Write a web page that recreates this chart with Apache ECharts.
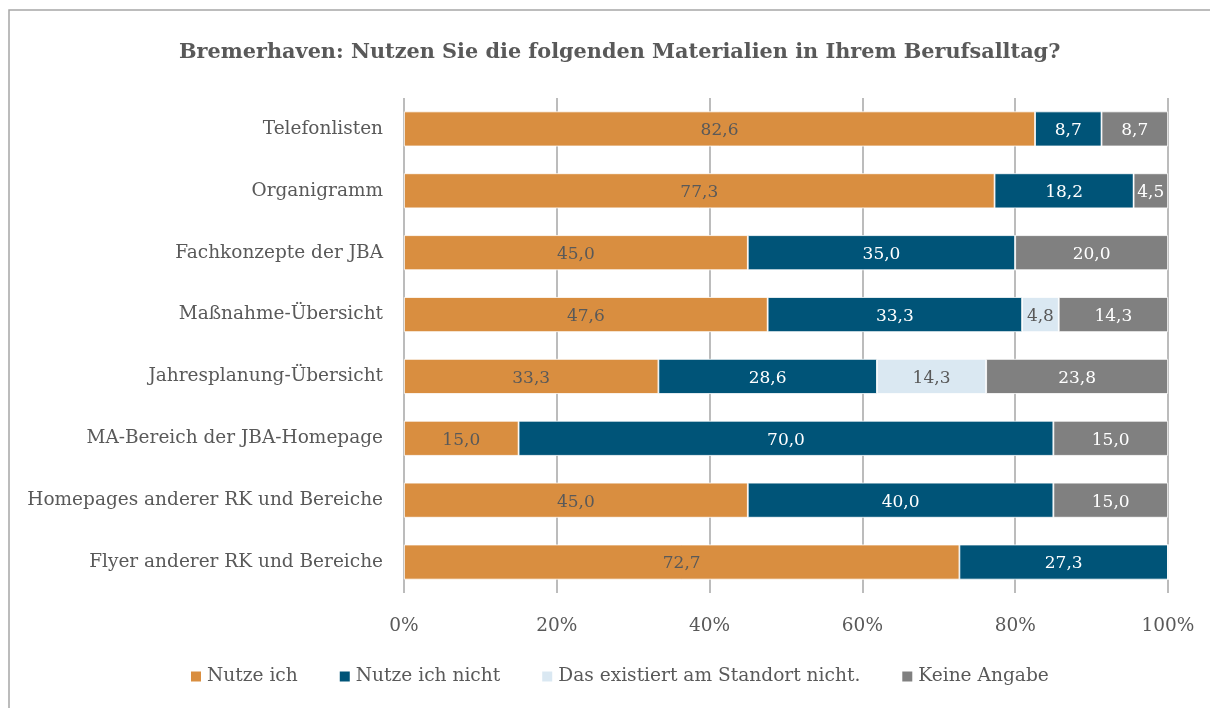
<!DOCTYPE html>
<html>
<head>
<meta charset="utf-8">
<script src="https://cdn.jsdelivr.net/npm/echarts@6/dist/echarts.min.js"></script>
<style>
html, body { margin: 0; padding: 0; background: #fff; }
#main { width: 1210px; height: 708px; }
</style>
</head>
<body>
<div id="main"></div>
<script>
var categories = ['Telefonlisten', 'Organigramm', 'Fachkonzepte der JBA', 'Maßnahme-Übersicht',
    'Jahresplanung-Übersicht', 'MA-Bereich der JBA-Homepage', 'Homepages anderer RK und Bereiche',
    'Flyer anderer RK und Bereiche'];
var nutzeIch = [82.6, 77.3, 45.0, 47.6, 33.3, 15.0, 45.0, 72.7];
var nutzeIchNicht = [8.7, 18.2, 35.0, 33.3, 28.6, 70.0, 40.0, 27.3];
var existiertNicht = [0, 0, 0, 4.8, 14.3, 0, 0, 0];
var keineAngabe = [8.7, 4.5, 20.0, 14.3, 23.8, 15.0, 15.0, 0];
var xTicks = [0, 20, 40, 60, 80, 100];

var fontFam = '"Palatino Linotype", "Book Antiqua", Palatino, "DejaVu Serif", serif';
var textGray = '#595959';

function fmt(p) {
    if (!p.value) return '';
    return p.value.toFixed(1).replace('.', ',');
}

function makeSeries(name, data, color, labelColor) {
    return {
        name: name,
        type: 'bar',
        stack: 'total',
        barWidth: 35,
        data: data,
        itemStyle: { color: color, borderColor: '#fff', borderWidth: 0.8 },
        label: {
            show: true,
            position: 'inside',
            formatter: fmt,
            color: labelColor,
            fontFamily: fontFam,
            fontSize: 17,
            offset: [0, 2]
        }
    };
}

var chart = echarts.init(document.getElementById('main'));
chart.setOption({
    animation: false,
    textStyle: { fontFamily: fontFam },
    graphic: [{
        type: 'rect',
        shape: { x: 9, y: 10, width: 1220, height: 720 },
        style: { fill: 'none', stroke: '#A6A6A6', lineWidth: 1.5 },
        silent: true
    }],
    title: {
        text: 'Bremerhaven: Nutzen Sie die folgenden Materialien in Ihrem Berufsalltag?',
        left: 174,
        top: 37,
        textStyle: { fontFamily: fontFam, fontSize: 20.8, fontWeight: 'bold', color: textGray }
    },
    legend: {
        bottom: 17,
        left: 184,
        icon: 'rect',
        itemWidth: 12,
        itemHeight: 12,
        itemGap: 40,
        textStyle: { fontFamily: fontFam, fontSize: 18.6, color: textGray },
        data: ['Nutze ich', 'Nutze ich nicht', 'Das existiert am Standort nicht.', 'Keine Angabe']
    },
    grid: { left: 404, right: 42, top: 98, bottom: 115 },
    xAxis: {
        type: 'value',
        min: xTicks[0],
        max: xTicks[xTicks.length - 1],
        interval: 20,
        axisLine: { show: false },
        axisTick: { show: false },
        splitLine: { show: true, lineStyle: { color: '#A6A6A6', width: 1.5 } },
        axisLabel: {
            formatter: '{value}%',
            margin: 24,
            color: textGray,
            fontFamily: fontFam,
            fontSize: 18.5
        }
    },
    yAxis: {
        type: 'category',
        inverse: true,
        data: categories,
        axisLine: { show: false },
        axisTick: { show: false },
        axisLabel: {
            margin: 21,
            color: textGray,
            fontFamily: fontFam,
            fontSize: 18.5
        }
    },
    series: [
        makeSeries('Nutze ich', nutzeIch, '#D98E40', textGray),
        makeSeries('Nutze ich nicht', nutzeIchNicht, '#005478', '#ffffff'),
        makeSeries('Das existiert am Standort nicht.', existiertNicht, '#DAE8F2', textGray),
        makeSeries('Keine Angabe', keineAngabe, '#808080', '#ffffff')
    ]
});
</script>
</body>
</html>
